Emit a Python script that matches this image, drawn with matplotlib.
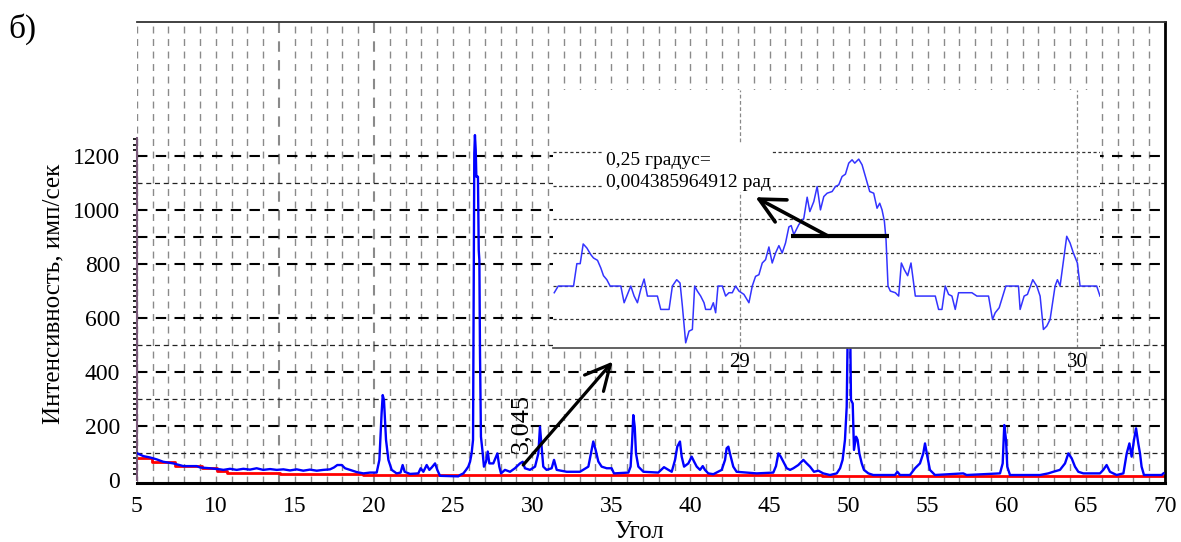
import matplotlib
matplotlib.use("Agg")
import matplotlib.pyplot as plt
import numpy as np
from matplotlib.ticker import FixedLocator
from matplotlib.patches import Rectangle

plt.rcParams['font.family'] = ['Liberation Serif', 'DejaVu Serif']

# ---------------- data ----------------
main_x = [5.04, 5.42, 5.84, 6.26, 6.68, 7.31, 7.95, 8.79, 9.00, 9.63, 10.27, 10.48,
          10.90, 11.32, 11.74, 12.16, 12.58, 13.00, 13.43, 13.85, 14.27, 14.69, 15.11, 15.53, 15.95, 16.38, 16.80, 17.22,
          17.47, 17.68, 17.96, 18.17, 18.48, 18.90, 19.33, 19.75, 20.17, 20.34, 20.48, 20.55, 20.63, 20.76, 20.91, 21.12,
          21.43, 21.68, 21.81, 21.94, 22.28, 22.80, 22.95, 23.12, 23.33, 23.50, 23.65, 23.86, 24.00, 24.17, 25.33,
          25.44, 25.65, 25.82, 25.96, 26.07, 26.17, 26.26, 26.34, 26.38, 26.43, 26.47, 26.57, 26.62, 26.66, 26.70, 26.76,
          26.85, 26.95, 27.08, 27.19, 27.29, 27.54, 27.80, 27.92, 28.03, 28.28, 28.60, 28.91, 29.23, 29.40, 29.54, 29.86,
          30.18, 30.39,
          30.49, 30.70, 30.91, 31.23, 31.38, 31.55, 32.18, 33.02, 33.55, 33.76, 33.86, 34.01, 34.18, 34.39, 34.71, 35.02,
          35.17, 36.08, 36.22, 36.31, 36.39, 36.48, 36.56, 36.71, 37.03, 37.97, 38.18, 38.33, 38.61, 38.82, 39.03, 39.17,
          39.34, 39.45, 39.60, 39.87, 40.08, 40.23, 40.40, 40.61, 40.78, 40.92, 41.13, 41.45, 41.98, 42.19, 42.29, 42.40,
          42.50, 42.71, 42.92, 44.19, 45.24, 45.41, 45.56, 45.71, 45.87, 46.09, 46.30, 46.51, 46.82, 47.14, 47.35, 47.56,
          47.81, 48.09, 48.40, 48.82, 49.25, 49.46,
          49.62, 49.77, 49.88, 49.96, 50.09, 50.15, 50.26, 50.34, 50.47, 50.57, 50.68, 50.83, 50.97, 51.25, 51.56, 52.93,
          53.08, 53.25, 53.88, 54.20, 54.51, 54.72, 54.83, 54.98, 55.14, 55.46, 57.25, 57.46, 59.57, 59.74, 59.84, 59.95,
          60.03, 60.20, 62.10, 62.62, 62.94, 63.36, 63.68, 63.89, 64.10, 64.31, 64.52, 64.84, 65.89, 66.10, 66.31, 66.52,
          66.94, 67.37, 67.58, 67.75, 67.89, 68.04, 68.17, 68.31, 68.42, 68.52, 68.67, 68.95, 69.79, 69.90]
main_y = [97, 87, 82, 75, 66, 60, 50, 50, 45, 42, 38, 36,
          40, 36, 40, 37, 42, 36, 39, 36, 38, 34, 38, 33, 37, 33, 36, 38,
          45, 54, 54, 42, 36, 28, 23, 26, 26, 73, 245, 313, 295, 147, 73, 36,
          23, 26, 54, 29, 21, 23, 42, 29, 54, 36, 45, 60, 36, 14, 12,
          17, 23, 36, 48, 66, 97, 147, 1208, 1276, 1221, 1122, 1122, 850, 813, 468, 159,
          110, 48, 66, 104, 60, 60, 97, 48, 23, 36, 29, 42, 60, 66, 42, 36,
          48, 97,
          196, 48, 36, 42, 73, 36, 29, 29, 48, 110, 141, 110, 67, 48, 42, 42,
          23, 26, 48, 134, 239, 196, 97, 48, 29, 26, 38, 46, 36, 29, 73, 122,
          141, 85, 48, 60, 85, 67, 48, 36, 50, 36, 23, 20, 36, 73, 116, 122,
          97, 48, 29, 23, 26, 50, 97, 85, 67, 42, 36, 42, 54, 73, 60, 48,
          29, 33, 23, 17, 23, 42,
          73, 147, 270, 620, 620, 295, 282, 110, 159, 147, 97, 60, 36, 23, 17, 17,
          29, 17, 17, 42, 60, 97, 134, 85, 36, 17, 23, 17, 23, 60, 202, 147,
          48, 17, 17, 23, 29, 36, 60, 97, 79, 48, 29, 23, 23, 36, 54, 29,
          17, 23, 97, 134, 85, 147, 190, 134, 97, 48, 17, 17, 17, 23]

base_x = [5.04, 5.95, 7.42, 9.11, 10.05, 10.69, 14.06, 19.33, 48.3, 70.0]
base_y = [80, 66, 50, 42, 33, 26, 22, 17, 13, 13]

inset_x = [28.4507, 28.4625, 28.5079, 28.5177, 28.5276, 28.5365, 28.5473, 28.5591, 28.5670, 28.5789, 28.5887,
           28.5966, 28.6065, 28.6163, 28.6479, 28.6578, 28.6676, 28.6775, 28.6874, 28.6972, 28.7071, 28.7170,
           28.7268, 28.7564, 28.7663, 28.7909, 28.8008, 28.8136, 28.8235, 28.8304, 28.8402, 28.8501, 28.8600,
           28.8668, 28.8747, 28.8846, 28.8945, 28.8994, 28.9142, 28.9221, 28.9290, 28.9359, 28.9487, 28.9586,
           28.9684, 28.9783, 28.9882, 28.9980, 29.0128, 29.0276, 29.0375, 29.0473, 29.0572, 29.0671, 29.0769,
           29.0868, 29.0966, 29.1065, 29.1164, 29.1262, 29.1361, 29.1460, 29.1529, 29.1607, 29.1755, 29.1903,
           29.2002, 29.2081, 29.2199, 29.2298, 29.2396, 29.2495, 29.2594,
           29.2741, 29.2840, 29.2938, 29.3037, 29.3136, 29.3234, 29.3333, 29.3412, 29.3530, 29.3629, 29.3728,
           29.3856, 29.3974, 29.4073, 29.4152, 29.4221, 29.4290, 29.4339, 29.4398, 29.4467, 29.4615, 29.4714,
           29.4793, 29.4881, 29.4980, 29.5079, 29.5207, 29.5799, 29.5897, 29.5996, 29.6095, 29.6193, 29.6292,
           29.6390, 29.6489, 29.6884, 29.7031, 29.7377, 29.7495, 29.7574, 29.7692, 29.7889, 29.8264, 29.8313,
           29.8432, 29.8530, 29.8688, 29.8806, 29.8905, 29.9003, 29.9102, 29.9201, 29.9349, 29.9418, 29.9497,
           29.9576, 29.9694, 29.9793, 29.9891, 30.0010, 30.0089, 30.0582, 30.0680]
inset_y = [48.0, 50.0, 50.0, 56.7, 56.7, 62.6, 61.4, 59.4, 58.4, 57.7, 55.4,
           53.1, 51.9, 50.0, 50.0, 45.0, 47.5, 50.0, 47.0, 45.0, 49.0, 52.1,
           47.0, 47.0, 43.0, 43.0, 50.0, 51.9, 50.9, 44.0, 33.0, 36.5, 37.0,
           50.0, 48.5, 47.0, 45.0, 43.0, 43.0, 45.0, 42.0, 50.0, 50.0, 47.0,
           48.0, 48.0, 50.0, 48.5, 47.5, 45.0, 50.0, 52.9, 53.4, 56.9, 57.9,
           61.7, 56.9, 59.9, 62.1, 59.9, 62.9, 67.7, 68.1, 65.4, 68.4, 70.3,
           76.6, 72.3, 75.3, 79.8, 72.8, 76.8, 77.8,
           78.3, 79.8, 80.3, 82.8, 83.5, 86.8, 87.8, 86.8, 88.0, 86.3, 82.8,
           78.3, 77.8, 73.3, 74.8, 72.8, 69.4, 63.9, 50.0, 48.5, 48.0, 47.0,
           56.9, 54.9, 53.1, 56.9, 47.0, 47.0, 43.0, 43.0, 50.0, 47.5, 47.0,
           43.0, 48.0, 48.0, 47.0, 47.0, 40.0, 42.0, 43.5, 50.0, 50.0, 43.0,
           47.0, 47.5, 51.9, 50.0, 47.0, 37.0, 38.0, 40.0, 50.0, 51.9, 50.0,
           55.9, 64.9, 62.9, 59.9, 56.9, 50.0, 50.0, 47.0]

x_ticks = [5, 10, 15, 20, 25, 30, 35, 40, 45, 50, 55, 60, 65, 70]
y_ticks = [0, 200, 400, 600, 800, 1000, 1200]
grid_bold = [200, 400, 600, 800, 900, 1000, 1200]
grid_thin = [100, 300, 500, 1100]
inset_grid = [40, 50, 60, 70, 80, 90]
inset_ticks = [29, 30]

# ---------------- figure ----------------
W, H = 1181, 542
fig = plt.figure(figsize=(W / 100, H / 100), dpi=100)
fig.patch.set_facecolor('white')

def fx(px):
    return px / W

def fy(py):
    return 1 - py / H

ax = fig.add_axes([fx(136.7), fy(483.3), fx(1165) - fx(136.7), fy(21.7) - fy(483.3)])
ax.set_xlim(5, 70)
ax.set_ylim(-13.7, 1696)

# vertical grid every degree
for g in range(6, 70):
    lw = 1.5 if g in (14, 20) else 1.0
    ax.axvline(g, color='#8a8a8a', lw=lw, dashes=(5, 4), zorder=1)
ax.axvline(5, color='#8a8a8a', lw=1.0, dashes=(5, 4), zorder=1)
for g in grid_bold:
    ax.axhline(g, color='black', lw=1.5, dashes=(5, 4), zorder=1)
for g in grid_thin:
    ax.axhline(g, color='#222222', lw=0.9, dashes=(4, 3), zorder=1)

ax.plot(base_x, base_y, color='#ff0000', lw=2.0, drawstyle='steps-post', zorder=2)
ax.plot(main_x, main_y, color='#0000ff', lw=1.7, zorder=3)

# spines
ax.spines['left'].set_bounds(0, 1265)
ax.spines['left'].set_color('#7a5a7a')
ax.spines['left'].set_linewidth(1.5)
ax.spines['bottom'].set_linewidth(2.2)
ax.spines['bottom'].set_color('black')
ax.spines['top'].set_color('#333333')
ax.spines['top'].set_linewidth(1.3)
ax.spines['right'].set_color('black')
ax.spines['right'].set_linewidth(2.0)

ax.set_xticks(x_ticks)
ax.set_xticklabels([str(v) for v in x_ticks])
ax.set_yticks(y_ticks)
ax.set_yticklabels([str(v) for v in y_ticks])
ax.yaxis.set_minor_locator(FixedLocator(list(range(0, 1261, 20))))
ax.tick_params(axis='x', length=0, pad=9, labelsize=17)
ax.tick_params(axis='y', which='major', length=0, pad=12, labelsize=17)
ax.tick_params(axis='y', which='minor', length=3, width=1.4, color='#222222', direction='out')

fig.text(fx(53), fy(294), 'Интенсивность, имп/сек', rotation=90, ha='center', va='center', fontsize=18)
fig.text(fx(639), fy(532), 'Угол', ha='center', va='center', fontsize=18)
fig.text(fx(8), fy(29), 'б)', ha='left', va='center', fontsize=24)

ax.text(29.29, 206, '3,045', rotation=90, ha='center', va='center', fontsize=19, zorder=5)
ax.annotate('', xy=(35.09, 437), xytext=(29.43, 54),
            arrowprops=dict(arrowstyle='->,head_length=0.9,head_width=0.45', lw=2.3, color='black',
                            shrinkA=0, shrinkB=0, mutation_scale=20), zorder=6)

# ---------------- inset ----------------
axi = fig.add_axes([fx(553), fy(347.5), fx(1100) - fx(553), fy(90) - fy(347.5)])
axi.set_facecolor('white')
axi.set_xlim(28.447, 30.068)
axi.set_ylim(31.6, 108.7)
for s in ('top', 'left', 'right'):
    axi.spines[s].set_visible(False)
axi.spines['bottom'].set_color('#555555')
axi.spines['bottom'].set_linewidth(1.3)
for g in inset_grid:
    axi.axhline(g, color='#333333', lw=0.9, dashes=(2.5, 2), zorder=1)
for g in inset_ticks:
    axi.axvline(g, color='#888888', lw=0.9, dashes=(3, 2), zorder=1)
axi.add_patch(Rectangle((28.598, 78.2), 0.494, 14.5, facecolor='white', edgecolor='none', zorder=2))
axi.plot(inset_x, inset_y, color='#3333ff', lw=1.1, zorder=3)
axi.set_xticks(inset_ticks)
axi.set_xticklabels([str(v) for v in inset_ticks])
axi.set_yticks([])
axi.tick_params(axis='x', length=0, pad=4, labelsize=15)

axi.text(28.6036, 86.3, '0,25 градус=', ha='left', va='baseline', fontsize=14, zorder=4)
axi.text(28.6036, 79.8, '0,004385964912 рад', ha='left', va='baseline', fontsize=14, zorder=4)
axi.plot([29.151, 29.442], [64.87, 64.87], color='black', lw=3, solid_capstyle='butt', zorder=5)
axi.annotate('', xy=(29.047, 76.6), xytext=(29.264, 64.87),
             arrowprops=dict(arrowstyle='->,head_length=0.9,head_width=0.45', lw=2.6, color='black',
                             shrinkA=0, shrinkB=0, mutation_scale=20), zorder=6)

fig.savefig('out.png', dpi=100)
